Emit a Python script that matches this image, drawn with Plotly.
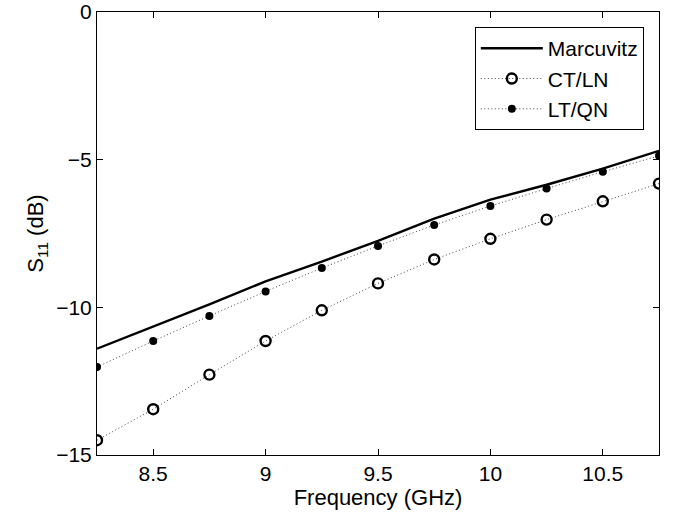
import plotly.graph_objects as go

# Frequency sweep (GHz) and return loss S11 (dB) for the three models
freq = [8.25, 8.5, 8.75, 9.0, 9.25, 9.5, 9.75, 10.0, 10.25, 10.5, 10.75]
marcuvitz = [-11.4, -10.65, -9.9, -9.12, -8.45, -7.75, -7.0, -6.35, -5.85, -5.3, -4.7]
ct_ln = [-14.5, -13.45, -12.28, -11.14, -10.1, -9.19, -8.38, -7.68, -7.03, -6.41, -5.81]
lt_qn = [-12.02, -11.14, -10.29, -9.46, -8.67, -7.92, -7.21, -6.57, -5.98, -5.41, -4.87]

x_ticks = [8.5, 9, 9.5, 10, 10.5]
y_ticks = [-15, -10, -5, 0]

font_family = "Liberation Sans, Arial, Helvetica, sans-serif"
dotted = "1px,2.5px"

fig = go.Figure()
fig.add_trace(go.Scatter(
    x=freq, y=marcuvitz, mode="lines", name="Marcuvitz",
    line=dict(color="black", width=2.4),
))
fig.add_trace(go.Scatter(
    x=freq, y=ct_ln, mode="lines+markers", name="CT/LN",
    line=dict(color="#444444", width=1, dash=dotted),
    marker=dict(symbol="circle-open", size=10, color="black",
                line=dict(color="black", width=2.4)),
))
fig.add_trace(go.Scatter(
    x=freq, y=lt_qn, mode="lines+markers", name="LT/QN",
    line=dict(color="#444444", width=1, dash=dotted),
    marker=dict(symbol="circle", size=8, color="black"),
))

axis_common = dict(
    showgrid=False, zeroline=False, showline=True, linecolor="black",
    linewidth=1, mirror="ticks", ticks="inside", ticklen=6,
    tickcolor="black", tickfont=dict(size=21, color="black"),
    automargin=False,
)

fig.update_xaxes(
    range=[8.25, 10.75], tickvals=x_ticks,
    ticktext=[str(v) for v in x_ticks],
    title=dict(text="Frequency (GHz)", font=dict(size=22, color="black"),
               standoff=0),
    **axis_common,
)
fig.update_yaxes(
    range=[-15, 0], tickvals=y_ticks,
    title=dict(text="S<sub>11</sub> (dB)", font=dict(size=22, color="black"),
               standoff=6),
    **axis_common,
)

fig.update_layout(
    width=677, height=512,
    margin=dict(l=97, r=18, t=12, b=57),
    plot_bgcolor="white", paper_bgcolor="white",
    font=dict(family=font_family, size=22, color="black"),
    legend=dict(
        x=0.973, y=0.966, xanchor="right", yanchor="top",
        bgcolor="white", bordercolor="black", borderwidth=1,
        font=dict(size=21), tracegroupgap=0, itemwidth=62,
    ),
)

fig.write_html("out.html")
